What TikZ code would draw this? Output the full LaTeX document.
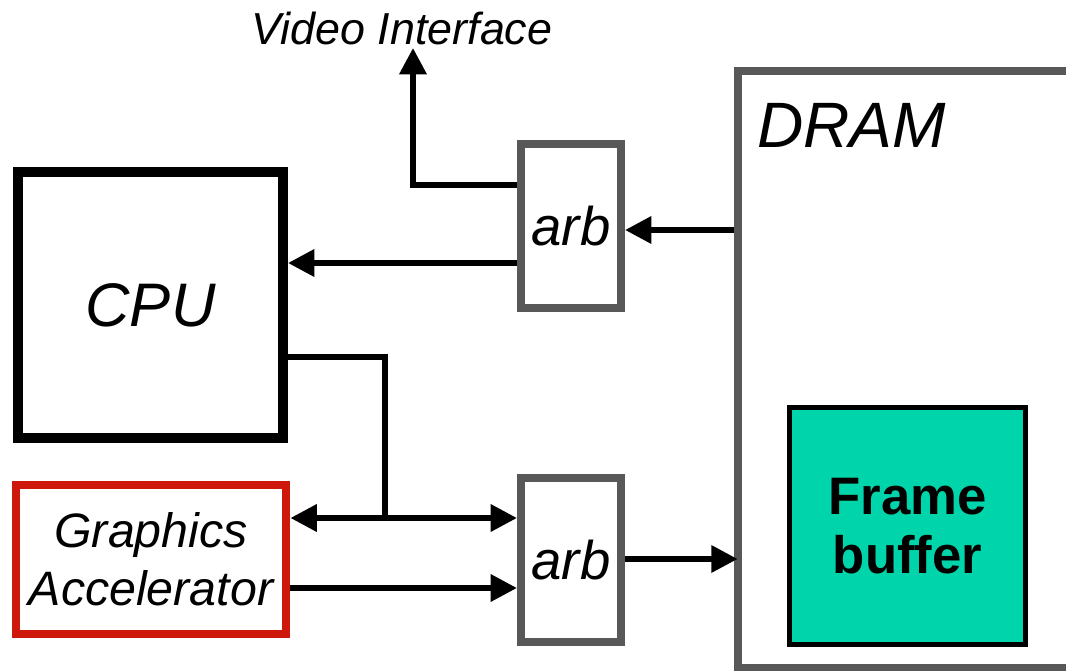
\documentclass[tikz,border=0pt]{standalone}
\usepackage{fontspec}
\setmainfont{Liberation Sans}
\usepackage{tikz}
\usetikzlibrary{arrows.meta,calc}
\definecolor{arbgray}{RGB}{88,88,88}
\definecolor{gared}{RGB}{206,24,12}
\definecolor{fbteal}{RGB}{0,212,170}

\begin{document}
\begin{tikzpicture}[
  box/.style={rectangle, draw, inner sep=0pt, align=center},
  arbbox/.style={box, draw=arbgray, line width=4.6pt, minimum width=2.0cm, minimum height=3.28cm, font=\fontsize{31}{34}\selectfont\itshape},
  arrow/.style={-{Triangle[length=15pt, width=15pt]}, line width=3.2pt},
  dblarrow/.style={{Triangle[length=15pt, width=15pt]}-{Triangle[length=15pt, width=15pt]}, line width=3.2pt}
]
  \useasboundingbox (0,0) rectangle (21.32,-13.42);

  \node[box, line width=5.7pt, minimum width=5.3cm, minimum height=5.32cm, font=\fontsize{35}{40}\selectfont\itshape] (cpu) at (3.01,-6.10) {CPU};
  \node[box, draw=gared, line width=5.1pt, minimum width=5.4cm, minimum height=2.98cm, font=\fontsize{27.5}{33}\selectfont\itshape] (ga) at (3.02,-11.19) {Graphics\\Accelerator};
  \node[arbbox] (arbtop) at (11.42,-4.52) {arb};
  \node[arbbox] (arbbot) at (11.42,-11.20) {arb};
  \node[box, draw=arbgray, line width=5pt, minimum width=7.04cm, minimum height=11.94cm] (dram) at (18.28,-7.39) {};
  \node[anchor=base west, inner sep=0pt, font=\fontsize{36.5}{40}\selectfont\itshape] (dramlabel) at (15.14,-2.94) {DRAM};
  \node[box, fill=fbteal, line width=2.8pt, minimum width=4.72cm, minimum height=4.74cm, font=\fontsize{30}{34}\selectfont\bfseries] (fb) at (18.15,-10.52) {Frame\\buffer};
  \node[inner sep=0pt, font=\fontsize{25.5}{30}\selectfont\itshape] (video) at (8.04,-0.56) {Video Interface};
  \coordinate (vout) at (8.26,-0.96);
  \coordinate (jn) at (7.70,-10.36);

  \draw[arrow] (arbtop.west |- 0,-3.70) -| (vout);
  \draw[arrow] (arbtop.west |- 0,-5.26) -- (cpu.east |- 0,-5.26);
  \draw[arrow] (dram.west |- 0,-4.60) -- (arbtop.east |- 0,-4.60);
  \draw[line width=2.9pt] (cpu.east |- 0,-7.14) -| (jn);
  \draw[dblarrow] (ga.east |- jn) -- (arbbot.west |- jn);
  \draw[arrow] (ga.east |- 0,-11.76) -- (arbbot.west |- 0,-11.76);
  \draw[arrow] (arbbot.east |- 0,-11.18) -- ([xshift=0.08cm]dram.west |- 0,-11.18);
\end{tikzpicture}
\end{document}
